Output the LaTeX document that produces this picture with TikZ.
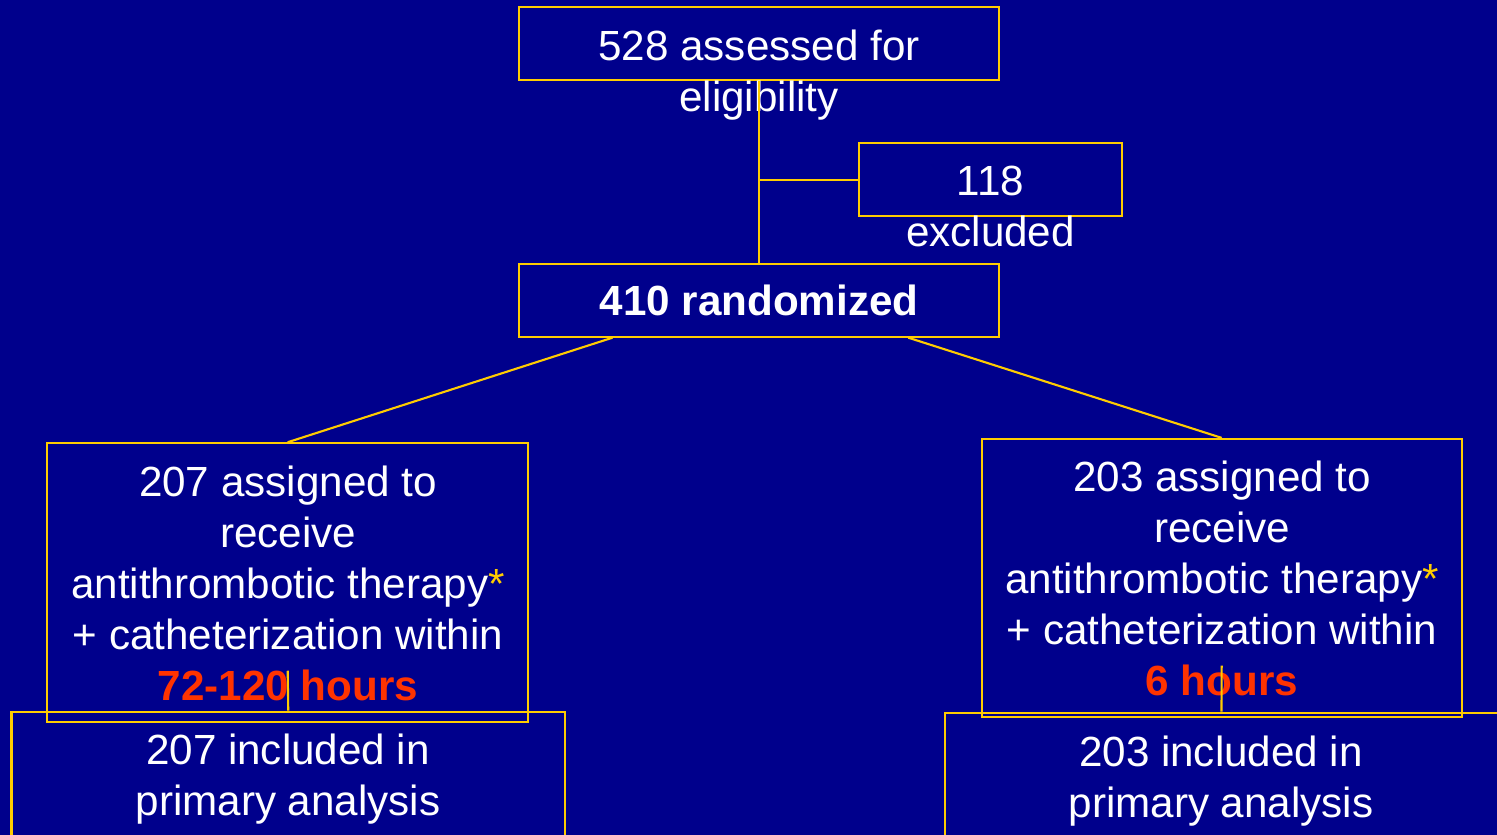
\documentclass[tikz,border=0pt]{standalone}
\usepackage{fontspec}
\setmainfont{Liberation Sans}
\definecolor{pptblue}{RGB}{0,0,140}
\definecolor{pptgold}{RGB}{255,204,0}
\definecolor{pptred}{RGB}{255,51,0}

\begin{document}
\begin{tikzpicture}[
    box/.style={draw=pptgold, line width=0.6pt, inner sep=0pt},
    txt/.style={text=white, align=center, inner sep=0pt, font=\fontsize{12}{14.5}\selectfont},
    link/.style={draw=pptgold, line width=0.6pt}]
  \fill[pptblue] (0,0) rectangle (14.97,-8.35);
  \clip (0,0) rectangle (14.97,-8.35);

  \node[box, minimum width=4.8cm, minimum height=7.27mm] (top) at (7.59,-0.437) {};
  \node[box, minimum width=2.63cm, minimum height=7.27mm] (excl) at (9.905,-1.797) {};
  \node[box, txt, minimum width=4.8cm, minimum height=7.27mm] (rand) at (7.59,-3.003) {\bfseries 410 randomized};
  \node[box, minimum width=4.807cm, minimum height=2.784cm] (armL) at (2.877,-5.825) {};
  \node[box, minimum width=4.8cm, minimum height=2.777cm] (armR) at (12.217,-5.778) {};
  \node[box, minimum width=5.535cm, minimum height=1.6cm] (anaL) at (2.8825,-7.917) {};
  \node[box, minimum width=5.535cm, minimum height=1.6cm] (anaR) at (12.215,-7.927) {};

  \node[txt] (topT) at (7.59,-0.747) {528 assessed for\\eligibility};
  \node[txt] (exclT) at (9.905,-2.065) {118\\excluded};
  \node[txt] (armLT) at (2.88,-5.837) {207 assigned to\\receive\\antithrombotic therapy{\color{pptgold}*}\\+ catheterization within\\{\bfseries\color{pptred}72-120 hours}};
  \node[txt] (armRT) at (12.22,-5.782) {203 assigned to\\receive\\antithrombotic therapy{\color{pptgold}*}\\+ catheterization within\\{\bfseries\color{pptred}6 hours}};
  \node[txt] (anaLT) at (2.88,-7.788) {207 included in\\primary analysis};
  \node[txt] (anaRT) at (12.21,-7.807) {203 included in\\primary analysis};

  \draw[link] (top.south) -- (rand.north);
  \draw[link] (top.south |- excl.west) -- (excl.west);
  \draw[link] ([xshift=-1.465cm]rand.south) -- (armL.north);
  \draw[link] ([xshift=1.493cm]rand.south) -- (armR.north);
  \draw[link] ([yshift=5.2mm]armL.south) -- (anaL.north);
  \draw[link] ([yshift=5.2mm]armR.south) -- (anaR.north);
\end{tikzpicture}
\end{document}
